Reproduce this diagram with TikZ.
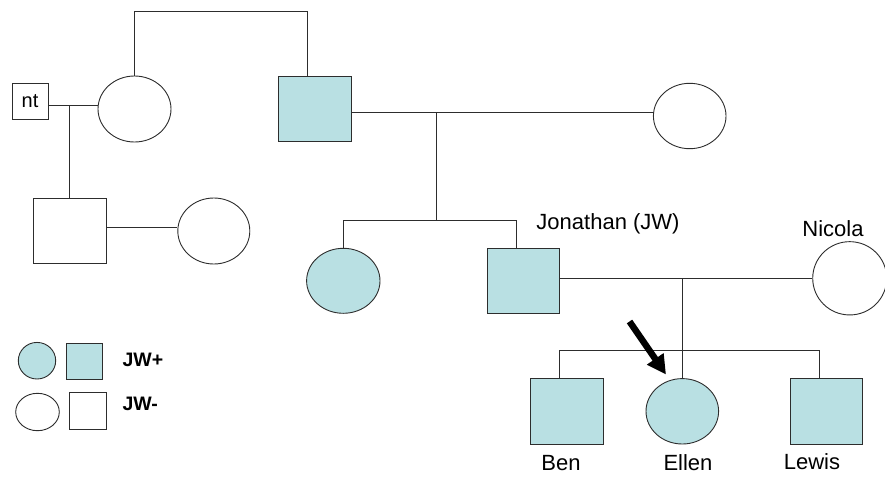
\documentclass[tikz,border=0pt]{standalone}
\usepackage{fontspec}
\setmainfont{Liberation Sans}
\usetikzlibrary{shapes.geometric,arrows.meta}
\definecolor{affected}{RGB}{185,224,227}
\definecolor{edge}{RGB}{45,45,45}
\tikzset{
  link/.style={draw=edge,line width=0.9pt},
  male/.style={rectangle,draw=edge,line width=0.9pt,inner sep=0pt,minimum width=72.6pt,minimum height=65pt},
  female/.style={ellipse,draw=edge,line width=0.9pt,inner sep=0pt,minimum width=72.6pt,minimum height=65.4pt},
  carrier/.style={fill=affected},
  clear/.style={fill=white},
  pname/.style={font=\fontsize{22}{24}\selectfont,inner sep=0pt},
  keytext/.style={font=\fontsize{19.5}{22}\bfseries\selectfont,inner sep=0pt,anchor=west},
}
\begin{document}
\begin{tikzpicture}[x=1pt,y=-1pt]
\useasboundingbox (0,0) rectangle (885,490);

% first generation
\node[rectangle,draw=edge,line width=0.9pt,minimum width=36pt,minimum height=36pt,inner sep=0pt,
      font=\fontsize{20}{22}\selectfont] (nt) at (30,101) {nt};
\node[female,clear,minimum width=73pt,minimum height=66pt] (gm) at (134.5,109) {};
\node[male,carrier] (gf) at (314.7,108.8) {};
\node[female,clear] (gfw) at (689.7,116) {};

% second generation
\node[male,clear,minimum height=65.7pt] (uc) at (69.7,231) {};
\node[female,clear,minimum width=72pt,minimum height=66pt] (ucw) at (213.8,231) {};
\node[female,carrier,minimum width=73.4pt,minimum height=65pt] (aunt) at (343.3,280.8) {};
\node[male,carrier,minimum width=72pt,minimum height=64.7pt] (jw) at (523.3,281) {};
\node[female,clear,minimum width=74pt,minimum height=73.3pt] (nic) at (849.7,278.3) {};

% third generation
\node[male,carrier,minimum height=65.3pt] (ben) at (567,411.3) {};
\node[female,carrier] (ellen) at (682.3,411.3) {};
\node[male,carrier,minimum height=65.3pt] (lewis) at (826.3,411.3) {};

% names
\node[pname] (jwlab) at (608,224) {Jonathan (JW)};
\node[pname] (niclab) at (833,229) {Nicola};
\node[pname] (benlab) at (561,463) {Ben};
\node[pname] (ellenlab) at (688,463) {Ellen};
\node[pname] (lewislab) at (812,462) {Lewis};

% junction points
\coordinate (top) at (307.3,11);
\coordinate (m1) at (69.3,105);
\coordinate (m2) at (140,227.7);
\coordinate (m3) at (436.7,112.3);
\coordinate (s1) at (436.7,220);
\coordinate (s1l) at (343.3,220);
\coordinate (s1r) at (516,220);
\coordinate (m4) at (682.3,278.3);
\coordinate (s2) at (682.3,350.3);
\coordinate (s2l) at (559.7,350.3);
\coordinate (s2r) at (819,350.3);

% connectors
\draw[link] (gm.north) |- (top) -- (top |- gf.north);
\draw[link] (nt.east |- m1) -- (gm.west |- m1);
\draw[link] (m1) -- (m1 |- uc.north);
\draw[link] (uc.east |- m2) -- (ucw.west |- m2);
\draw[link] (gf.east |- m3) -- (gfw.west |- m3);
\draw[link] (m3) -- (s1);
\draw[link] (s1l) -- (s1r);
\draw[link] (s1l) -- (aunt.north);
\draw[link] (s1r) -- (s1r |- jw.north);
\draw[link] (jw.east |- m4) -- (nic.west |- m4);
\draw[link] (m4) -- (ellen.north);
\draw[link] (s2l) -- (s2r);
\draw[link] (s2l) -- (s2l |- ben.north);
\draw[link] (s2r) -- (s2r |- lewis.north);

% proband arrow
\coordinate (atail) at (629.5,321.5);
\coordinate (atip) at (666,374.5);
\draw[line width=6.5pt,-{Triangle[length=19pt,width=19pt]}] (atail) -- (atip);

% legend
\node[female,carrier,minimum width=37.4pt,minimum height=36.6pt] (kfp) at (37,360.7) {};
\node[male,carrier,minimum width=36.3pt,minimum height=36pt] (kmp) at (84.2,361.3) {};
\node[female,clear,minimum width=43.6pt,minimum height=37.4pt] (kfn) at (37.5,412) {};
\node[male,clear,minimum width=36.7pt,minimum height=36.3pt] (kmn) at (87.7,410.9) {};
\node[keytext] (kplus) at (122.3,359.5) {JW+};
\node[keytext] (kminus) at (122.3,404) {JW-};
\end{tikzpicture}
\end{document}
